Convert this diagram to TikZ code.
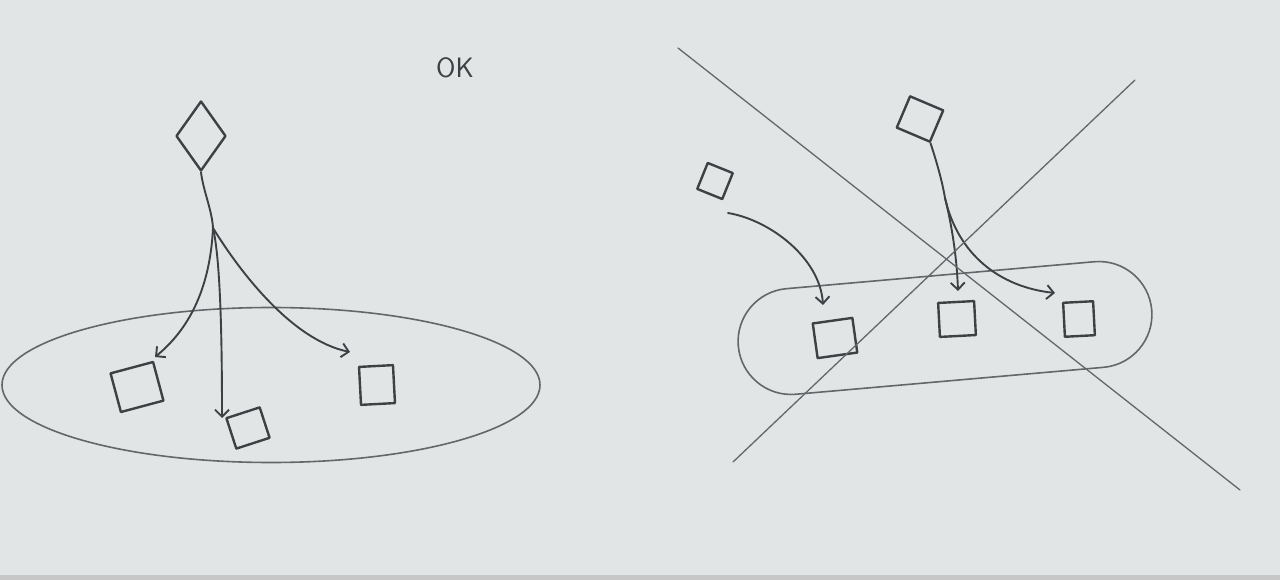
\documentclass[tikz,border=0pt]{standalone}
\usetikzlibrary{arrows.meta,shapes.geometric,shapes.misc}
\definecolor{paper}{RGB}{226,229,230}
\definecolor{pencil}{RGB}{62,64,67}
\definecolor{faint}{RGB}{100,102,105}
\tikzset{
  sq/.style={draw=pencil, line width=2.4pt, inner sep=0pt, line join=round},
  pen/.style={draw=pencil, line width=1.9pt, line cap=round},
  conn/.style={pen, -{Straight Barb[length=7pt,width=14pt,line width=1.9pt]}},
  thin/.style={draw=faint, line width=1.3pt, line cap=round},
  outline/.style={draw=faint, line width=1.6pt, inner sep=0pt},
}
\begin{document}
\begin{tikzpicture}[x=1pt,y=-1pt]
\fill[paper] (0,0) rectangle (1280,580);
\fill[black!22] (0,575) rectangle (1280,580);
\useasboundingbox (0,0) rectangle (1280,580);

% ---------- left (OK) ----------
\node[font=\sffamily\fontsize{28}{28}\selectfont, text=pencil] (ok) at (455,68) {OK};
\node[outline, ellipse, minimum width=538pt, minimum height=155pt] (lell) at (271,385) {};
\node[sq, diamond, minimum width=50pt, minimum height=70pt] (dia) at (201,136) {};
\node[sq, minimum width=44pt, minimum height=40pt, rotate=15] (l1) at (137,387) {};
\node[sq, minimum width=35pt, minimum height=32pt, rotate=18] (l2) at (248,428) {};
\node[sq, minimum width=34pt, minimum height=38pt, rotate=3] (l3) at (377,385) {};
\coordinate (br) at (213,228);
\coordinate (t1) at (155,357);
\coordinate (t2) at (222,418);
\coordinate (t3) at (350,352);
\draw[pen] (dia.south) .. controls (203,190) and (212,210) .. (br);
\draw[conn] (br) .. controls (210,290) and (188,330) .. (t1);
\draw[conn] (br) .. controls (221,262) and (222,350) .. (t2);
\draw[conn] (br) .. controls (240,272) and (292,340) .. (t3);

% ---------- right (crossed out) ----------
\node[outline, rounded rectangle, minimum width=415pt, minimum height=106pt, rotate=5] (rell) at (945,328) {};
\node[sq, minimum width=36pt, minimum height=34pt, rotate=-23] (rtop) at (920,119) {};
\node[sq, minimum width=27pt, minimum height=28pt, rotate=-22] (rsm) at (715,181) {};
\node[sq, minimum width=40pt, minimum height=35pt, rotate=8] (ra) at (835,338) {};
\node[sq, minimum width=36pt, minimum height=34pt, rotate=3] (rb) at (957,319) {};
\node[sq, minimum width=30pt, minimum height=34pt, rotate=3] (rc) at (1079,319) {};
\coordinate (rbr) at (945,198);
\coordinate (s0) at (728,213);
\coordinate (ta) at (823,305);
\coordinate (tb) at (958,291);
\coordinate (tc) at (1055,293);
\draw[pen] (rtop.south east) .. controls (936,160) and (942,180) .. (rbr);
\draw[conn] (rbr) .. controls (953,230) and (957,262) .. (tb);
\draw[conn] (rbr) .. controls (958,255) and (1000,287) .. (tc);
\draw[conn] (s0) .. controls (770,220) and (820,258) .. (ta);

\coordinate (x1a) at (678,48);
\coordinate (x1b) at (1240,490);
\coordinate (x2a) at (733,462);
\coordinate (x2b) at (1135,80);
\draw[thin] (x1a) -- (x1b);
\draw[thin] (x2a) -- (x2b);
\end{tikzpicture}
\end{document}
